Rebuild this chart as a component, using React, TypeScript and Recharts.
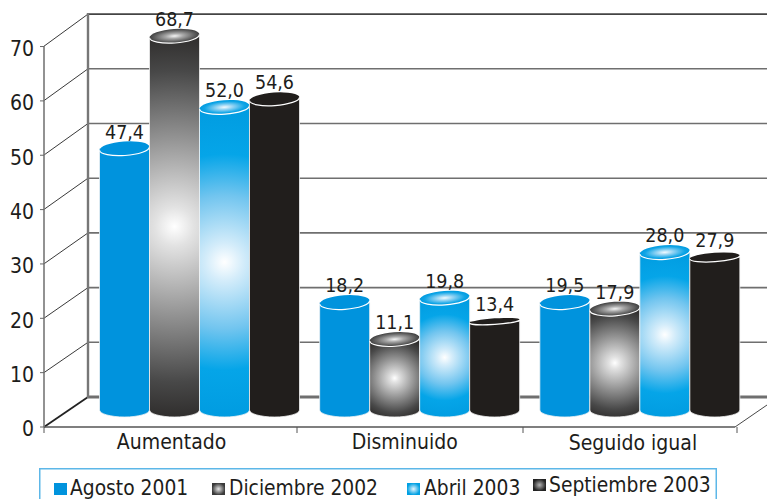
import { BarChart, Bar, XAxis, YAxis, LabelList, Legend } from 'recharts';

const categories = ['Aumentado', 'Disminuido', 'Seguido igual'];
const yTicks = [0, 10, 20, 30, 40, 50, 60, 70];

// printed labels
const agosto = [47.4, 18.2, 19.5];
const diciembre = [68.7, 11.1, 17.9];
const abril = [52.0, 19.8, 28.0];
const septiembre = [54.6, 13.4, 27.9];

// the bars in the source are not to scale with their labels, so heights are read off the axis
const agostoDrawn = [49.4, 21.1, 21.1];
const diciembreDrawn = [70.1, 14.3, 19.9];
const abrilDrawn = [57.0, 21.9, 30.3];
const septiembreDrawn = [58.5, 17.6, 29.4];

const data = categories.map((name, i) => ({
    name,
    agosto: agostoDrawn[i],
    diciembre: diciembreDrawn[i],
    abril: abrilDrawn[i],
    septiembre: septiembreDrawn[i],
    agostoLabel: agosto[i],
    diciembreLabel: diciembre[i],
    abrilLabel: abril[i],
    septiembreLabel: septiembre[i],
}));

const FONT = '"DejaVu Sans Condensed", "DejaVu Sans", sans-serif';
const TEXT = '#1d1d1b';
const BLUE = '#0093dd';
const BLACK = '#211e1c';
const LIFT = 10; // bars stand in the middle of the floor
const blackCapRy = [6.5, 3, 4.5]; // black tops get flatter to the right

const stops = {
    gray: [['0', '#ffffff'], ['0.1', '#e2e2e2'], ['0.45', '#949494'], ['0.8', '#484848'], ['1', '#2d2b2a']],
    sky: [['0', '#ffffff'], ['0.12', '#d3ecfa'], ['0.42', '#72c5ef'], ['0.68', '#05a5e8'], ['1', '#009be0']],
};

const capStops = {
    gray: [['0', '#f4f4f4'], ['0.35', '#a8a8a8'], ['0.75', '#666666'], ['1', '#3f3f3f']],
    sky: [['0', '#f2faff'], ['0.35', '#8fd2f3'], ['0.8', '#10a5e6'], ['1', '#009be0']],
};

const Cylinder = (props: any) => {
    const { x, y, width, height, index, kind } = props;
    const top = y - LIFT;
    const bottom = y + height - LIFT;
    const rx = width / 2;
    const cx = x + rx;
    const cy = (top + bottom) / 2;
    const bodyId = `${kind}-body-${index}`;
    const capId = `${kind}-cap-${index}`;
    const flat = kind === 'blue' ? BLUE : BLACK;
    const gradient = stops[kind as 'gray' | 'sky'];
    const capGradient = capStops[kind as 'gray' | 'sky'];
    const ry = kind === 'black' ? blackCapRy[index] : 7;
    return (
        <g>
            {gradient && (
                <defs>
                    <radialGradient id={bodyId} gradientUnits="userSpaceOnUse" cx={cx} cy={cy} r={(bottom - top) / 2 + 4}>
                        {gradient.map(([o, c]) => <stop key={o} offset={o} stopColor={c} />)}
                    </radialGradient>
                    <radialGradient id={capId} cx="0.5" cy="0.5" r="0.5">
                        {capGradient.map(([o, c]) => <stop key={o} offset={o} stopColor={c} />)}
                    </radialGradient>
                </defs>
            )}
            <path
                d={`M${x},${top} L${x},${bottom - 7} A${rx},7 0 0 0 ${x + width},${bottom - 7} L${x + width},${top} Z`}
                fill={gradient ? `url(#${bodyId})` : flat}
                stroke="#f2f2f2"
                strokeWidth={0.8}
            />
            <g transform={`rotate(-4 ${cx} ${top})`}>
                <ellipse cx={cx} cy={top} rx={rx} ry={ry} fill={gradient ? `url(#${capId})` : flat} />
                <path d={`M${x},${top} A${rx},${ry} 0 0 0 ${x + width},${top}`} fill="none" stroke="#ffffff" strokeWidth={1.2} />
            </g>
        </g>
    );
};

// the 3D box behind the bars
const Frame = () => {
    const front = (v: number) => 427 - v * 5.44;
    const back = (v: number) => 397 - v * 5.47;
    return (
        <g>
            {yTicks.map((v) => (
                <g key={v}>
                    <line x1={88} y1={back(v)} x2={767} y2={back(v)} stroke={v === 70 ? '#444' : '#6f6f6f'} strokeWidth={v === 0 ? 3 : 1.6} />
                    <line x1={44} y1={front(v)} x2={88} y2={back(v)} stroke="#222" strokeWidth={v === 0 ? 1.8 : 0.9} />
                </g>
            ))}
            <line x1={88} y1={13} x2={88} y2={398} stroke="#777" strokeWidth={2.4} />
            <line x1={44} y1={427} x2={735} y2={427} stroke="#555" strokeWidth={1.4} />
            <line x1={735} y1={427} x2={767} y2={405} stroke="#333" strokeWidth={0.9} />
            {[44, 297, 523, 737].map((x) => (
                <line key={x} x1={x} y1={427} x2={x} y2={433} stroke="#555" strokeWidth={1} />
            ))}
        </g>
    );
};

const categoryShift = [-27, -14, -6];

const CategoryTick = (props: any) => {
    const { x, payload, index } = props;
    return (
        <text x={x + categoryShift[index]} y={449 + (index === 2 ? 1 : 0)} textAnchor="middle" fontSize={21} fontFamily={FONT} fill={TEXT}>
            {payload.value}
        </text>
    );
};

const legendItems = [
    { name: 'Agosto 2001', fill: BLUE, swatch: 54, text: 70 },
    { name: 'Diciembre 2002', fill: 'url(#lg-gray)', swatch: 212, text: 229 },
    { name: 'Abril 2003', fill: 'url(#lg-sky)', swatch: 407, text: 424 },
    { name: 'Septiembre 2003', fill: 'url(#lg-dark)', swatch: 533, text: 549 },
];

const LegendBox = () => (
    <svg width={678} height={31} style={{ display: 'block' }}>
        <defs>
            <radialGradient id="lg-gray"><stop offset="0" stopColor="#e8e8e8" /><stop offset="1" stopColor="#3a3a3a" /></radialGradient>
            <radialGradient id="lg-sky"><stop offset="0" stopColor="#e6f6fe" /><stop offset="1" stopColor="#00a0e3" /></radialGradient>
            <radialGradient id="lg-dark"><stop offset="0" stopColor="#b5b5b5" /><stop offset="1" stopColor="#222222" /></radialGradient>
        </defs>
        <path d="M0.75,31 L0.75,0.75 L677.25,0.75 L677.25,31" fill="none" stroke="#5db7e8" strokeWidth={1.5} />
        {legendItems.map((it, i) => (
            <g key={it.name}>
                <rect x={it.swatch - 39} y={i === 3 ? 11 : 15} width={13} height={12} fill={it.fill} />
                <text x={it.text - 39} y={i === 3 ? 24 : 27} fontSize={20.8} fontFamily={FONT} fill={TEXT}>{it.name}</text>
            </g>
        ))}
    </svg>
);

const fmt = (v: any) => Number(v).toFixed(1).replace('.', ',');

const series = [
    { key: 'agosto', name: 'Agosto 2001', kind: 'blue' },
    { key: 'diciembre', name: 'Diciembre 2002', kind: 'gray' },
    { key: 'abril', name: 'Abril 2003', kind: 'sky' },
    { key: 'septiembre', name: 'Septiembre 2003', kind: 'black' },
];

export default function App() {
    return (
        <div style={{ position: 'absolute', left: 0, top: 0, width: 767, height: 499, overflow: 'hidden', background: '#fff' }}>
            <BarChart
                width={767}
                height={499}
                data={data}
                margin={{ top: 46, right: 0, left: 0, bottom: 12 }}
                barCategoryGap={11}
                barGap={0}
            >
                <Frame />
                <XAxis
                    dataKey="name"
                    height={60}
                    padding={{ left: 44.5, right: 18 }}
                    axisLine={false}
                    tickLine={false}
                    interval={0}
                    tick={<CategoryTick />}
                />
                <YAxis
                    width={44}
                    domain={[0, 70]}
                    ticks={yTicks}
                    interval={0}
                    axisLine={{ stroke: '#777', strokeWidth: 1.6 }}
                    tickLine={{ stroke: '#666' }}
                    tickSize={4}
                    tickMargin={6}
                    tick={{ fill: TEXT, fontSize: 21, fontFamily: FONT, dy: 2 }}
                />
                <Legend
                    verticalAlign="middle"
                    wrapperStyle={{ left: 39, top: 468, width: 678, height: 31, bottom: 'auto' }}
                    content={<LegendBox />}
                />
                {series.map((s) => (
                    <Bar
                        key={s.key}
                        dataKey={s.key}
                        name={s.name}
                        isAnimationActive={false}
                        shape={(p: any) => <Cylinder {...p} kind={s.kind} />}
                    >
                        <LabelList
                            dataKey={`${s.key}Label`}
                            position="top"
                            offset={20}
                            formatter={fmt}
                            style={{ fill: TEXT, fontSize: 19.5, fontFamily: FONT }}
                        />
                    </Bar>
                ))}
            </BarChart>
        </div>
    );
}
